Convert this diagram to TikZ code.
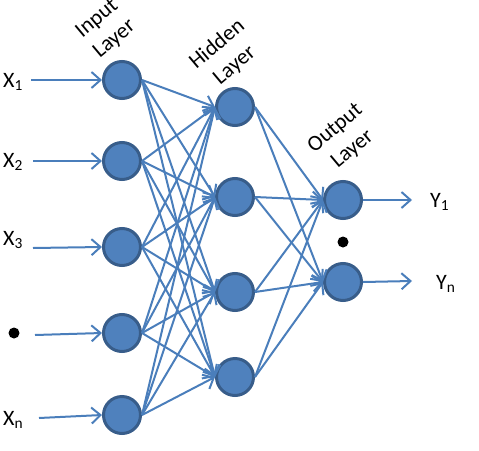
\documentclass[tikz,border=0pt]{standalone}
\usepackage{fontspec}
\setmainfont{Carlito}
\usetikzlibrary{arrows.meta}
\definecolor{nodefill}{RGB}{79,129,189}
\definecolor{nodeline}{RGB}{56,93,138}
\definecolor{linkcol}{RGB}{74,126,187}
\tikzset{
  neuron/.style={circle, draw=nodeline, fill=nodefill, line width=3pt,
    minimum size=37pt, inner sep=0pt},
  link/.style={draw=linkcol, line width=2pt,
    -{Straight Barb[length=9pt,width=16pt]}},
  layername/.style={rotate=40, align=center,
    font=\fontsize{22}{27}\selectfont},
  ioname/.style={anchor=west, inner sep=0pt, font=\fontsize{22}{24}\selectfont},
  bigdot/.style={circle, fill=black, inner sep=0pt, minimum size=11pt}
}
\begin{document}
\begin{tikzpicture}[x=1pt,y=-1pt]  % ------ the network -----------------------------
    \useasboundingbox (0,0) rectangle (479,450);
    % neurons
    \foreach \i/\y in {1/80,2/161,3/247,4/333,5/415}
      \node[neuron] (in\i) at (122,\y) {};
    \foreach \j/\y in {1/107,2/197,3/292,4/377}
      \node[neuron] (hid\j) at (235,\y) {};
    \node[neuron] (out1) at (343,200) {};
    \node[neuron] (out2) at (343,282) {};
    % layer names
    \node[layername] (inname) at (106,29) {Input\\Layer};
    \node[layername] (hidname) at (226,55) {Hidden\\Layer};
    \node[layername] (outname) at (344,139) {Output\\Layer};
    % inputs
    \node[ioname] (x1) at (3,82) {X\textsubscript{1}};
    \node[ioname] (x2) at (3,162) {X\textsubscript{2}};
    \node[ioname] (x3) at (3,240) {X\textsubscript{3}};
    \node[bigdot] (xdot) at (14,333) {};
    \node[ioname] (xn) at (3,420) {X\textsubscript{n}};
    \coordinate (s1) at (31,80);
    \coordinate (s2) at (33,161);
    \coordinate (s3) at (33,248);
    \coordinate (s4) at (35,335);
    \coordinate (s5) at (39,418);
    \foreach \i in {1,...,5}
      \draw[link] (s\i) -- (in\i.west);
    % connections
    \foreach \i in {1,...,5}
      \foreach \j in {1,...,4}
        \draw[link] (in\i.east) -- (hid\j.west);
    \foreach \j in {1,...,4}
      \foreach \k in {1,2}
        \draw[link] (hid\j.east) -- (out\k.west);
    % outputs
    \coordinate (e1) at (412,200);
    \coordinate (e2) at (412,281);
    \draw[link] (out1.east) -- (e1);
    \draw[link] (out2.east) -- (e2);
    \node[bigdot] (ydot) at (343,242) {};
    \node[ioname] (y1) at (430,202) {Y\textsubscript{1}};
    \node[ioname] (yn) at (436,284) {Y\textsubscript{n}};
\end{tikzpicture}
\end{document}
